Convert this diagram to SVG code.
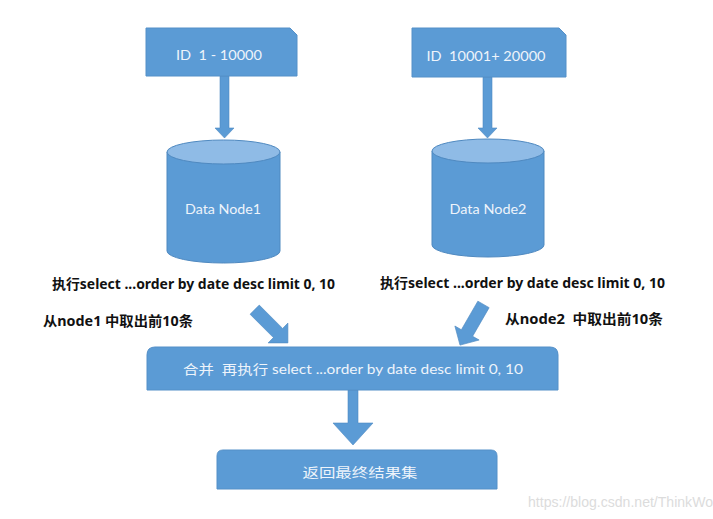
<svg xmlns="http://www.w3.org/2000/svg" width="713" height="519" viewBox="0 0 713 519">
<defs>
<style>
.box{fill:#5b9bd5;stroke:#5590c8;stroke-width:1}
.cyl{fill:#5b9bd5;stroke:#4f89c0;stroke-width:1}
.cyltop{fill:#8fbbe6;stroke:#4f89c0;stroke-width:1}
.arr{fill:#5b9bd5;stroke:#4f8ac2;stroke-width:0.6}
.wt{fill:#eef4fb;font-family:Lato,"Noto Sans","Noto Sans CJK SC",sans-serif;font-size:13px}
.lbl{fill:#111;font-family:"Noto Sans","Noto Sans CJK SC",sans-serif;font-size:13.5px;font-weight:bold}
.wm{fill:#dcdcdc;font-family:"Liberation Sans",Arial,sans-serif;font-size:14px}
</style>
</defs>
<rect width="713" height="519" fill="#ffffff"/>

<g id="connectors">
<polygon class="arr" points="220,76 229,76 229,128 234,128 224.5,138 215,128 220,128"/>
<polygon class="arr" points="483,77 492,77 492,128 497,128 487.5,138 478,128 483,128"/>
<g transform="translate(278,333) rotate(45)"><polygon class="arr" points="-33,-6.5 0,-6.5 0,-14 14,0 0,14 0,6.5 -33,6.5"/></g>
<g transform="translate(467,333) rotate(120)"><polygon class="arr" points="-33,-6.5 0,-6.5 0,-14 14,0 0,14 0,6.5 -33,6.5"/></g>
<polygon class="arr" points="348,390 358,390 358,423 373,423 353,445 333,423 348,423"/>
</g>

<g id="range1">
<path class="box" d="M146,28 H290 L297,35 V76 H146 Z"/>
<text class="wt" x="219" y="60" text-anchor="middle" textLength="86" lengthAdjust="spacingAndGlyphs" xml:space="preserve">ID  1 - 10000</text>
</g>

<g id="range2">
<path class="box" d="M412,28 H559 L566,35 V77 H412 Z"/>
<text class="wt" x="486" y="61" text-anchor="middle" textLength="119" lengthAdjust="spacingAndGlyphs" xml:space="preserve">ID  10001+ 20000</text>
</g>

<g id="node1">
<path class="cyl" d="M167,152 V251 A56.5,12 0 0 0 280,251 V152 Z"/>
<ellipse class="cyltop" cx="223.5" cy="152" rx="56.5" ry="12"/>
<text class="wt" x="223" y="214" text-anchor="middle" textLength="76" lengthAdjust="spacingAndGlyphs">Data Node1</text>
</g>

<g id="node2">
<path class="cyl" d="M432,151 V245 A56,12 0 0 0 544,245 V151 Z"/>
<ellipse class="cyltop" cx="488" cy="151" rx="56" ry="12"/>
<text class="wt" x="488" y="214" text-anchor="middle" textLength="77" lengthAdjust="spacingAndGlyphs">Data Node2</text>
</g>

<g id="label1">
<text class="lbl" x="52" y="289" textLength="283" lengthAdjust="spacingAndGlyphs">执行select ...order by date desc limit 0, 10</text>
<text class="lbl" x="43" y="326" textLength="150" lengthAdjust="spacingAndGlyphs">从node1 中取出前10条</text>
</g>

<g id="label2">
<text class="lbl" x="380" y="288" textLength="285" lengthAdjust="spacingAndGlyphs">执行select ...order by date desc limit 0, 10</text>
<text class="lbl" x="505" y="324" textLength="158" lengthAdjust="spacingAndGlyphs" xml:space="preserve">从node2  中取出前10条</text>
</g>

<g id="merge">
<path class="box" d="M147,390 V355 Q147,347 155,347 H550 Q558,347 558,355 V390 Z"/>
<text class="wt" x="183" y="374" font-size="14" textLength="340" lengthAdjust="spacingAndGlyphs" xml:space="preserve">合并  再执行 select ...order by date desc limit 0, 10</text>
</g>

<g id="result">
<path class="box" d="M217,489 V456 Q217,450 223,450 H491 Q497,450 497,456 V489 Z"/>
<text class="wt" x="360" y="477" font-size="15" text-anchor="middle" textLength="115" lengthAdjust="spacingAndGlyphs">返回最终结果集</text>
</g>

<text class="wm" x="528" y="507" textLength="185" lengthAdjust="spacingAndGlyphs">https://blog.csdn.net/ThinkWo</text>
</svg>
